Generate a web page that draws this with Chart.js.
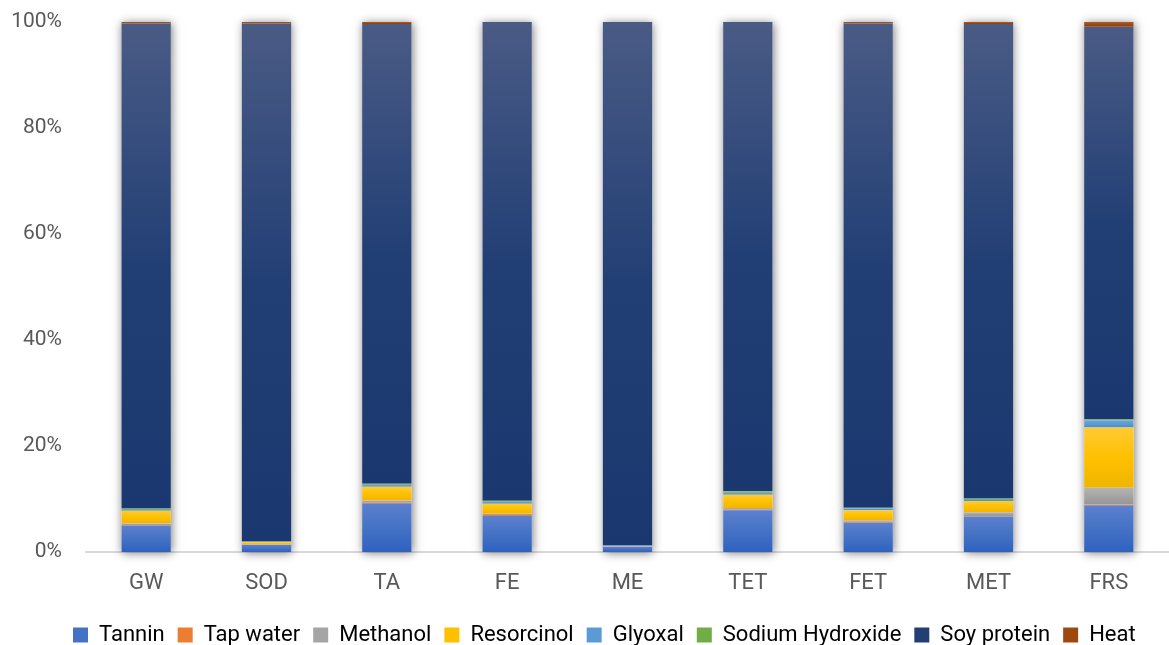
<!DOCTYPE html>
<html>
<head>
<meta charset="utf-8">
<script src="https://cdn.jsdelivr.net/npm/chart.js@4.4.1/dist/chart.umd.min.js"></script>
<style>
  html, body { margin: 0; padding: 0; background: #ffffff; }
  #wrap { width: 1169px; height: 645px; position: relative; }
</style>
</head>
<body>
<div id="wrap"><canvas id="myChart"></canvas></div>
<script>
// share of each input per formulation (%)
var categories = ["GW", "SOD", "TA", "FE", "ME", "TET", "FET", "MET", "FRS"];
var tannin          = [5.0, 1.3, 9.2, 6.8, 1.0, 7.9, 5.5, 6.7, 8.8];
var tapWater        = [0.1, 0.05, 0.2, 0.2, 0.02, 0.1, 0.2, 0.1, 0.2];
var methanol        = [0.3, 0.1, 0.3, 0.2, 0.05, 0.3, 0.3, 0.7, 3.1];
var resorcinol      = [2.4, 0.4, 2.6, 1.9, 0.05, 2.5, 1.9, 2.1, 11.4];
var glyoxal         = [0.3, 0.1, 0.4, 0.4, 0.1, 0.4, 0.35, 0.4, 1.3];
var sodiumHydroxide = [0.2, 0.05, 0.2, 0.15, 0.02, 0.25, 0.1, 0.2, 0.2];
var soyProtein      = [91.4, 97.7, 86.7, 90.35, 98.76, 88.55, 91.35, 89.4, 74.1];
var heat            = [0.3, 0.3, 0.4, 0, 0, 0, 0.3, 0.4, 0.9];
var yTicks = [0, 20, 40, 60, 80, 100];

var seriesNames = ["Tannin", "Tap water", "Methanol", "Resorcinol", "Glyoxal",
                   "Sodium Hydroxide", "Soy protein", "Heat"];
var seriesValues = [tannin, tapWater, methanol, resorcinol, glyoxal,
                    sodiumHydroxide, soyProtein, heat];

// top / middle / bottom shade for each series
var shades = [
  ["#5d80cf", "#4472c4", "#2f61bf"],
  ["#f4955c", "#ed7d31", "#e46c1c"],
  ["#b4b4b4", "#a5a5a5", "#969696"],
  ["#ffcb33", "#ffc000", "#efb500"],
  ["#6aa6dc", "#5b9bd5", "#4a8bcb"],
  ["#80bb5a", "#70ad47", "#5f9c38"],
  ["#4a5b85", "#223f75", "#1a386f"],
  ["#b05a2a", "#9e480e", "#8e3e08"]
];

// normalise every column to 100%
var colTotal = categories.map(function (c, j) {
  return seriesValues.reduce(function (s, vals) { return s + vals[j]; }, 0);
});
var percent = seriesValues.map(function (vals) {
  return vals.map(function (v, j) { return v / colTotal[j] * 100; });
});

function segmentFill(ctx) {
  var chart = ctx.chart, i = ctx.datasetIndex, j = ctx.dataIndex;
  if (!chart.chartArea || j === undefined || !chart.scales.y) return shades[i][1];
  var below = 0;
  for (var k = 0; k < i; k++) below += percent[k][j];
  var yTop = chart.scales.y.getPixelForValue(below + percent[i][j]);
  var yBot = chart.scales.y.getPixelForValue(below);
  if (!(yBot - yTop > 1)) return shades[i][1];
  var g = chart.ctx.createLinearGradient(0, yTop, 0, yBot);
  g.addColorStop(0, shades[i][0]);
  g.addColorStop(0.5, shades[i][1]);
  g.addColorStop(1, shades[i][2]);
  return g;
}

// soft shadow behind each whole column
var barShadow = {
  id: 'barShadow',
  beforeDatasetsDraw: function (chart) {
    var c = chart.ctx, y = chart.scales.y;
    var top = y.getPixelForValue(100), bottom = y.getPixelForValue(0);
    c.save();
    c.shadowColor = 'rgba(0,0,0,0.5)';
    c.shadowBlur = 9;
    c.shadowOffsetX = 1;
    c.shadowOffsetY = 1;
    c.fillStyle = '#ffffff';
    chart.getDatasetMeta(0).data.forEach(function (bar) {
      var p = bar.getProps(['x', 'width'], true);
      c.fillRect(p.x - p.width / 2, top, p.width, bottom - top);
    });
    c.restore();
  }
};

// legend row starts a little in from the left edge
var legendShift = {
  id: 'legendShift',
  afterLayout: function (chart) {
    chart.legend.left = 60;
  }
};

var datasets = seriesNames.map(function (name, i) {
  return {
    label: name,
    data: percent[i],
    backgroundColor: segmentFill,
    borderWidth: 0,
    categoryPercentage: 1,
    barPercentage: 0.41
  };
});

Chart.defaults.font.family = "Roboto, 'Open Sans', sans-serif";
Chart.defaults.color = '#595959';

var ctx = document.getElementById('myChart').getContext('2d');
var chart = new Chart(ctx, {
  type: 'bar',
  data: { labels: categories, datasets: datasets },
  plugins: [barShadow, legendShift],
  options: {
    responsive: true,
    maintainAspectRatio: false,
    animation: false,
    layout: { padding: { top: 22, right: -4, bottom: -11, left: 0 } },
    plugins: {
      tooltip: { enabled: false },
      legend: {
        position: 'bottom',
        align: 'start',
        labels: {
          boxWidth: 15,
          boxHeight: 15,
          padding: 13,
          font: { size: 22 },
          color: '#595959',
          generateLabels: function (chart) {
            return seriesNames.map(function (name, i) {
              return {
                text: name,
                fillStyle: shades[i][1],
                strokeStyle: shades[i][1],
                lineWidth: 0,
                hidden: false,
                datasetIndex: i
              };
            });
          }
        }
      }
    },
    scales: {
      x: {
        stacked: true,
        grid: { display: false, tickLength: 0 },
        border: { display: true, color: '#d9d9d9', width: 2 },
        ticks: { font: { size: 22 }, color: '#595959', padding: 18 },
        afterFit: function (scale) { scale.height = 59; }
      },
      y: {
        stacked: true,
        min: 0,
        max: 100,
        grid: { display: false },
        border: { display: false },
        afterBuildTicks: function (scale) {
          scale.ticks = yTicks.map(function (v) { return { value: v }; });
        },
        afterFit: function (scale) {
          scale.width = 86;
          scale.paddingTop = 0;
          scale.paddingBottom = 0;
        },
        ticks: {
          font: { size: 21 },
          color: '#595959',
          padding: 16,
          callback: function (v) { return v + '%'; }
        }
      }
    }
  }
});
</script>
</body>
</html>
